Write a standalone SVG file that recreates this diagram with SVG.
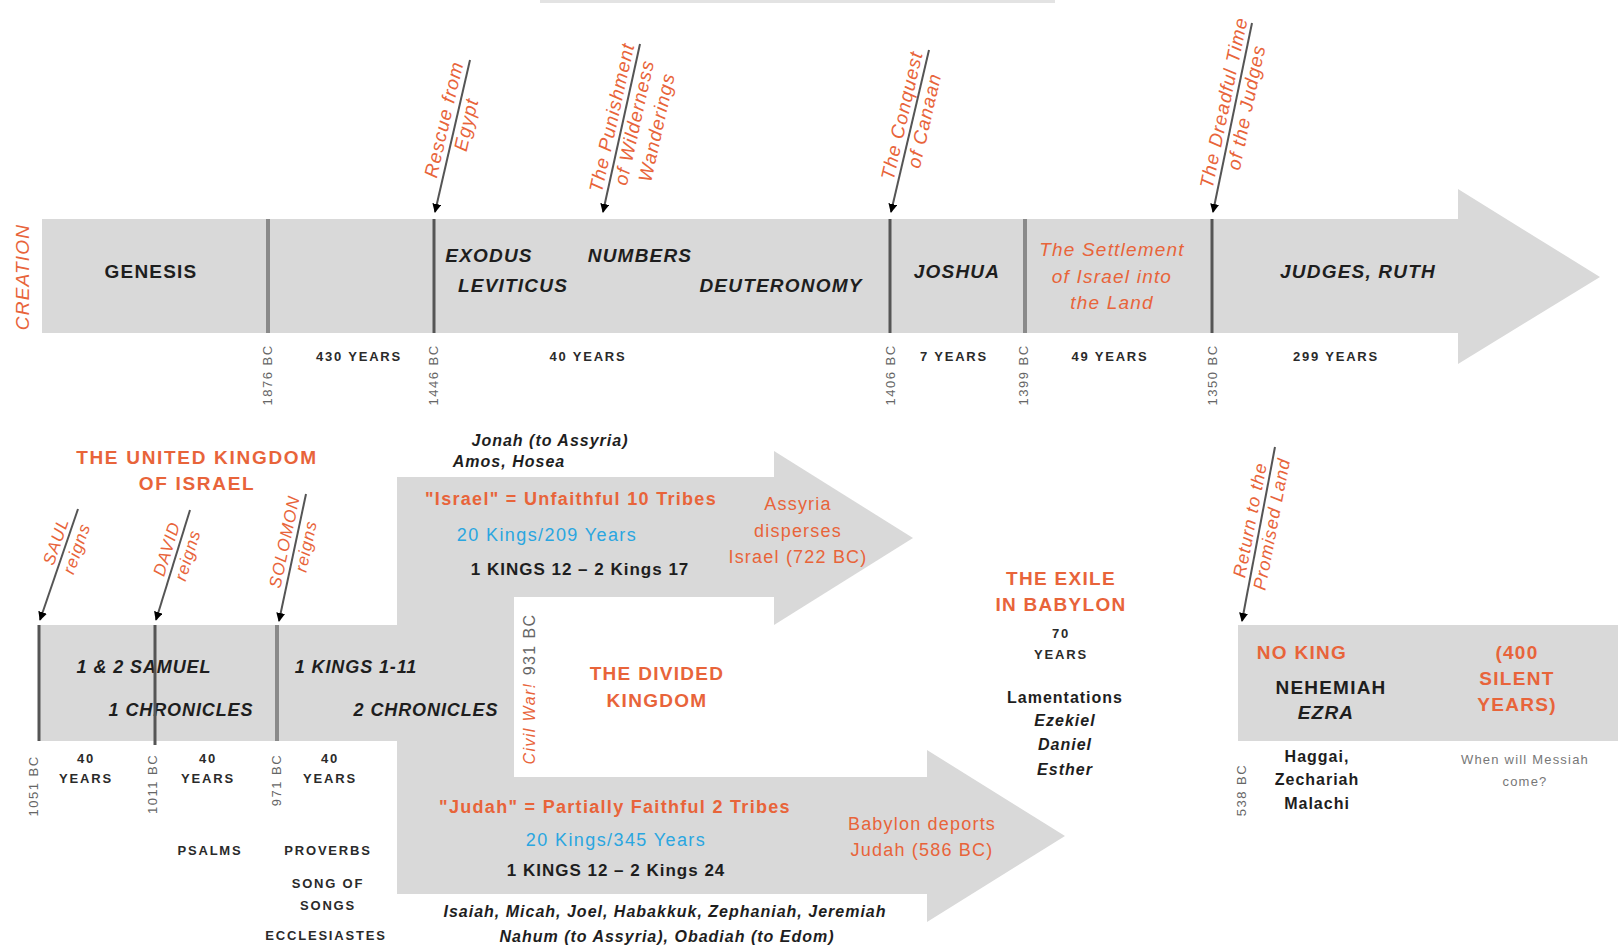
<svg xmlns="http://www.w3.org/2000/svg" width="1618" height="951" viewBox="0 0 1618 951">
<defs>
<marker id="ah" viewBox="0 0 10 10" refX="9" refY="5" markerWidth="9" markerHeight="9" markerUnits="userSpaceOnUse" orient="auto">
<path d="M0,0 L10,5 L0,10 z" fill="#000"/>
</marker>
<style>
text{font-family:"Liberation Sans",Arial,sans-serif;text-anchor:middle}
.band{fill:#d9d9d9}
.bk{fill:#1e1e1e;font-weight:bold;font-style:italic;font-size:19px;letter-spacing:1.2px}
.bku{fill:#1e1e1e;font-weight:bold;font-size:19px;letter-spacing:1.2px}
.or{fill:#e8643a;font-style:italic;font-size:19px;letter-spacing:1.2px}
.orb{fill:#e8643a;font-weight:bold;font-size:19px;letter-spacing:1.3px}
.yr{fill:#2a2a2a;font-weight:bold;font-size:13px;letter-spacing:1.8px}
.dt{fill:#666;font-size:13px;letter-spacing:1.5px}
.sm{fill:#1e1e1e;font-weight:bold;font-style:italic;font-size:16px;letter-spacing:1px}
.bl{fill:#2aa6e0;font-size:18px;letter-spacing:1.4px}
.gr{fill:#777;font-size:13px;letter-spacing:1.2px}
.lab{fill:#e8643a;font-style:italic;font-size:19px;letter-spacing:1px}
.div{stroke:#555;stroke-width:3}
.divg{stroke:#8a8a8a;stroke-width:4}
.arr{stroke:#555;stroke-width:2;fill:none;marker-end:url(#ah)}
</style>
</defs>
<rect width="1618" height="951" fill="#fff"/>
<rect x="540" y="0" width="515" height="3" fill="#e3e3e3"/>

<!-- TOP TIMELINE -->
<g id="top-band">
<rect class="band" x="42" y="219" width="1418" height="114"/>
<polygon class="band" points="1458,189 1600,277 1458,364"/>
</g>
<g id="creation"><text class="or" transform="translate(29,277) rotate(-90)" x="0" y="0">CREATION</text></g>
<g id="genesis"><text class="bku" x="151" y="278">GENESIS</text></g>
<g id="exodus">
<text class="bk" x="489" y="262">EXODUS</text>
<text class="bk" x="513" y="292">LEVITICUS</text>
</g>
<g id="numbers">
<text class="bk" x="640" y="262">NUMBERS</text>
<text class="bk" x="781" y="292">DEUTERONOMY</text>
</g>
<g id="joshua"><text class="bk" x="957" y="278">JOSHUA</text></g>
<g id="settlement">
<text class="or" x="1112" y="256">The Settlement</text>
<text class="or" x="1112" y="283">of Israel into</text>
<text class="or" x="1112" y="309">the Land</text>
</g>
<g id="judges"><text class="bk" x="1358" y="278">JUDGES, RUTH</text></g>

<g id="top-years">
<text class="yr" x="359" y="361">430 YEARS</text>
<text class="yr" x="588" y="361">40 YEARS</text>
<text class="yr" x="954" y="361">7 YEARS</text>
<text class="yr" x="1110" y="361">49 YEARS</text>
<text class="yr" x="1336" y="361">299 YEARS</text>
</g>
<g id="top-dates">
<text class="dt" transform="translate(272,375) rotate(-90)">1876 BC</text>
<text class="dt" transform="translate(438,375) rotate(-90)">1446 BC</text>
<text class="dt" transform="translate(895,375) rotate(-90)">1406 BC</text>
<text class="dt" transform="translate(1028,375) rotate(-90)">1399 BC</text>
<text class="dt" transform="translate(1217,375) rotate(-90)">1350 BC</text>
</g>

<g id="top-events">
<g transform="translate(455,122) rotate(-77)">
<text class="lab" x="0" y="-5">Rescue from</text>
<text class="lab" x="0" y="18">Egypt</text>
</g>
<g transform="translate(623,120) rotate(-77.6)">
<text class="lab" x="0" y="-5">The Punishment</text>
<text class="lab" x="0" y="18">of Wilderness</text>
<text class="lab" x="0" y="41">Wanderings</text>
</g>
<g transform="translate(913,118) rotate(-77.1)">
<text class="lab" x="0" y="-5">The Conquest</text>
<text class="lab" x="0" y="18">of Canaan</text>
</g>
<g transform="translate(1235,105) rotate(-78.3)">
<text class="lab" x="0" y="-5">The Dreadful Time</text>
<text class="lab" x="0" y="18">of the Judges</text>
</g>
</g>

<!-- BOTTOM -->
<g id="bottom-bands">
<rect class="band" x="38" y="625" width="476" height="116"/>
<rect class="band" x="397" y="477" width="117" height="417"/>
<rect class="band" x="397" y="477" width="379" height="120"/>
<polygon class="band" points="774,451 913,538 774,625"/>
<rect class="band" x="397" y="777" width="532" height="117"/>
<polygon class="band" points="927,750 1065,836 927,922"/>
<rect class="band" x="1238" y="625" width="380" height="116"/>
</g>

<g id="united">
<text class="orb" x="197" y="464" style="letter-spacing:1.7px">THE UNITED KINGDOM</text>
<text class="orb" x="197" y="490" style="letter-spacing:1.7px">OF ISRAEL</text>
</g>
<g id="samuel">
<text class="bk" x="144" y="673" style="font-size:18px;letter-spacing:0.9px">1 &amp; 2 SAMUEL</text>
<text class="bk" x="181" y="716" style="font-size:18px;letter-spacing:0.9px">1 CHRONICLES</text>
</g>
<g id="kings">
<text class="bk" x="356" y="673" style="font-size:18px;letter-spacing:0.9px">1 KINGS 1-11</text>
<text class="bk" x="426" y="716" style="font-size:18px;letter-spacing:0.9px">2 CHRONICLES</text>
</g>
<g id="reign-years">
<text class="yr" x="86" y="763">40</text><text class="yr" x="86" y="783">YEARS</text>
<text class="yr" x="208" y="763">40</text><text class="yr" x="208" y="783">YEARS</text>
<text class="yr" x="330" y="763">40</text><text class="yr" x="330" y="783">YEARS</text>
</g>
<g id="reign-dates">
<text class="dt" transform="translate(38,786) rotate(-90)">1051 BC</text>
<text class="dt" transform="translate(157,784) rotate(-90)">1011 BC</text>
<text class="dt" transform="translate(281,780) rotate(-90)">971 BC</text>
</g>
<g id="wisdom">
<text class="yr" x="210" y="855">PSALMS</text>
<text class="yr" x="328" y="855">PROVERBS</text>
<text class="yr" x="328" y="888">SONG OF</text>
<text class="yr" x="328" y="910">SONGS</text>
<text class="yr" x="326" y="940">ECCLESIASTES</text>
</g>
<g id="kings-events">
<g transform="translate(66,545) rotate(-71)">
<text class="lab" x="0" y="-5" style="font-size:17px">SAUL</text>
<text class="lab" x="0" y="17" style="font-size:17px">reigns</text>
</g>
<g transform="translate(177,552) rotate(-73)">
<text class="lab" x="0" y="-5" style="font-size:17px">DAVID</text>
<text class="lab" x="0" y="17" style="font-size:17px">reigns</text>
</g>
<g transform="translate(295,544) rotate(-78)">
<text class="lab" x="0" y="-5" style="font-size:17px">SOLOMON</text>
<text class="lab" x="0" y="17" style="font-size:17px">reigns</text>
</g>
</g>

<g id="israel">
<text class="sm" x="550" y="446">Jonah (to Assyria)</text>
<text class="sm" x="509" y="467">Amos, Hosea</text>
<text class="orb" x="571" y="505" style="font-size:18px;letter-spacing:1.3px">"Israel" = Unfaithful 10 Tribes</text>
<text class="bl" x="547" y="541">20 Kings/209 Years</text>
<text class="sm" x="580" y="575" style="font-style:normal;font-size:17px">1 KINGS 12 – 2 Kings 17</text>
<text class="or" x="798" y="510" style="font-style:normal;font-size:18px">Assyria</text>
<text class="or" x="798" y="537" style="font-style:normal;font-size:18px">disperses</text>
<text class="or" x="798" y="563" style="font-style:normal;font-size:18px">Israel (722 BC)</text>
</g>
<g id="divided">
<text class="orb" x="657" y="680">THE DIVIDED</text>
<text class="orb" x="657" y="707">KINGDOM</text>
<text transform="translate(535,689) rotate(-90)" style="font-size:16px;letter-spacing:1.4px"><tspan fill="#e8643a" font-style="italic">Civil War!</tspan><tspan fill="#666" dx="7">931 BC</tspan></text>
</g>
<g id="judah">
<text class="orb" x="615" y="813" style="font-size:18px;letter-spacing:1.3px">"Judah" = Partially Faithful 2 Tribes</text>
<text class="bl" x="616" y="846">20 Kings/345 Years</text>
<text class="sm" x="616" y="876" style="font-style:normal;font-size:17px">1 KINGS 12 – 2 Kings 24</text>
<text class="or" x="922" y="830" style="font-style:normal;font-size:18px">Babylon deports</text>
<text class="or" x="922" y="856" style="font-style:normal;font-size:18px">Judah (586 BC)</text>
<text class="sm" x="665" y="917">Isaiah, Micah, Joel, Habakkuk, Zephaniah, Jeremiah</text>
<text class="sm" x="667" y="942">Nahum (to Assyria), Obadiah (to Edom)</text>
</g>
<g id="exile">
<text class="orb" x="1061" y="585">THE EXILE</text>
<text class="orb" x="1061" y="611">IN BABYLON</text>
<text class="yr" x="1061" y="638">70</text>
<text class="yr" x="1061" y="659">YEARS</text>
<text class="sm" x="1065" y="703" style="font-style:normal">Lamentations</text>
<text class="sm" x="1065" y="726">Ezekiel</text>
<text class="sm" x="1065" y="750">Daniel</text>
<text class="sm" x="1065" y="775">Esther</text>
</g>
<g id="return">
<g transform="translate(1261,522) rotate(-79.2)">
<text class="lab" x="0" y="-5" style="font-size:18px">Return to the</text>
<text class="lab" x="0" y="17" style="font-size:18px">Promised Land</text>
</g>
<text class="orb" x="1302" y="659">NO KING</text>
<text class="bku" x="1331" y="694">NEHEMIAH</text>
<text class="bk" x="1326" y="719">EZRA</text>
<text class="orb" x="1517" y="659">(400</text>
<text class="orb" x="1517" y="685">SILENT</text>
<text class="orb" x="1517" y="711">YEARS)</text>
<text class="dt" transform="translate(1246,790) rotate(-90)">538 BC</text>
<text class="sm" x="1317" y="762" style="font-style:normal">Haggai,</text>
<text class="sm" x="1317" y="785" style="font-style:normal">Zechariah</text>
<text class="sm" x="1317" y="809" style="font-style:normal">Malachi</text>
<text class="gr" x="1525" y="764">When will Messiah</text>
<text class="gr" x="1525" y="786">come?</text>
</g>

<g id="connectors">
<line class="divg" x1="268" y1="219" x2="268" y2="333"/>
<line class="div" x1="434" y1="219" x2="434" y2="333"/>
<line class="div" x1="890" y1="219" x2="890" y2="333"/>
<line class="divg" x1="1025" y1="219" x2="1025" y2="333"/>
<line class="div" x1="1212" y1="219" x2="1212" y2="333"/>
<line class="arr" x1="470" y1="60" x2="435" y2="212"/>
<line class="arr" x1="640" y1="44" x2="603" y2="212"/>
<line class="arr" x1="929" y1="50" x2="891" y2="212"/>
<line class="arr" x1="1252" y1="23" x2="1213" y2="212"/>
<line class="div" x1="39" y1="625" x2="39" y2="741"/>
<line class="div" x1="155" y1="625" x2="155" y2="745"/>
<line class="divg" x1="277" y1="625" x2="277" y2="741"/>
<line class="arr" x1="78" y1="509" x2="40" y2="620"/>
<line class="arr" x1="190" y1="510" x2="156" y2="620"/>
<line class="arr" x1="306" y1="494" x2="279" y2="621"/>
<line class="arr" x1="1275" y1="447" x2="1242" y2="621"/>
</g>
</svg>
